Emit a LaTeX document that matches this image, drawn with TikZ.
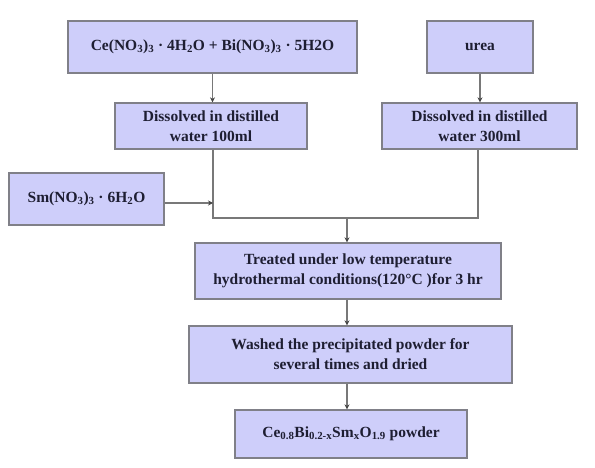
\documentclass[tikz,border=0pt]{standalone}
\usepackage{fontspec}
\setmainfont{Liberation Serif}
\usetikzlibrary{arrows.meta}
\definecolor{boxfill}{RGB}{206,206,250}
\definecolor{boxline}{RGB}{128,128,136}
\definecolor{linkcol}{RGB}{120,120,120}
\definecolor{tipcol}{RGB}{70,70,70}
\definecolor{txtcol}{RGB}{30,30,50}
\newcommand{\sbs}[1]{\textsubscript{#1}}
\tikzset{
  procbox/.style={draw=boxline, line width=1.3pt, fill=boxfill, text=txtcol,
    font=\bfseries\fontsize{15.5}{20}\selectfont, align=center, inner sep=2pt},
  link/.style={draw=linkcol, line width=1.3pt},
  arr/.style={link, -{Stealth[length=5pt,width=5pt,color=tipcol]}}
}
\begin{document}
\begin{tikzpicture}[x=1pt,y=-1pt]
\useasboundingbox (0,0) rectangle (595,468);
\node[procbox, minimum width=289pt, minimum height=52pt] (b1) at (212.5,47)
  {Ce(NO\sbs{3})\sbs{3} · 4H\sbs{2}O + Bi(NO\sbs{3})\sbs{3} · 5H2O};
\node[procbox, minimum width=106pt, minimum height=52pt] (urea) at (480,47) {urea};
\node[procbox, minimum width=192pt, minimum height=46pt] (d1) at (211,126)
  {Dissolved in distilled\\water 100ml};
\node[procbox, minimum width=195pt, minimum height=46pt] (d2) at (479.5,126)
  {Dissolved in distilled\\water 300ml};
\node[procbox, minimum width=155pt, minimum height=52pt] (sm) at (86.5,199)
  {Sm(NO\sbs{3})\sbs{3} · 6H\sbs{2}O};
\node[procbox, minimum width=306pt, minimum height=56pt] (tr) at (348,271)
  {Treated under low temperature\\hydrothermal conditions(120°C )for 3 hr};
\node[procbox, minimum width=323pt, minimum height=57pt] (wa) at (350.5,354.5)
  {Washed the precipitated powder for\\several times and dried};
\node[procbox, minimum width=232pt, minimum height=48pt] (fi) at (351,434)
  {Ce\sbs{0.8}Bi\sbs{0.2-x}Sm\sbs{x}O\sbs{1.9} powder};
\coordinate (m) at (347,218);
\coordinate (ja) at (213,218);
\coordinate (jb) at (478,218);
\draw[arr] (b1.south) -- (b1.south |- d1.north);
\draw[arr] (urea.south) -- (urea.south |- d2.north);
\draw[link] (d1.south -| ja) -- (ja) -- (jb) -- (d2.south -| jb);
\draw[arr] (sm.east |- 0,203) -- (213,203);
\draw[arr] (m) -- (m |- tr.north);
\draw[arr] (tr.south -| m) -- (m |- wa.north);
\draw[arr] (wa.south -| m) -- (m |- fi.north);
\end{tikzpicture}
\end{document}
